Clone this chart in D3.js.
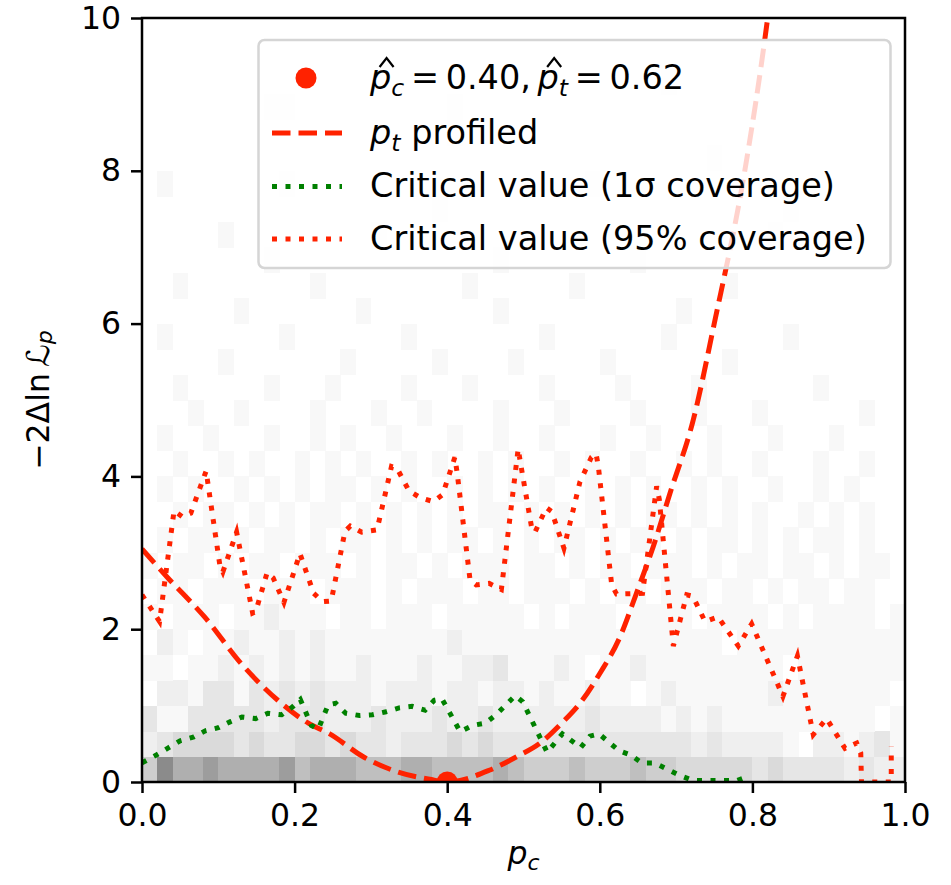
<!DOCTYPE html>
<html>
<head>
<meta charset="utf-8">
<script src="https://cdn.jsdelivr.net/npm/d3@7"></script>
<style>
  body { margin: 0; background: #fff; }
  text { font-family: "DejaVu Sans", sans-serif; }
</style>
</head>
<body>
<div id="container"></div>
<script>
/* CONSTANTS AND GLOBALS */
const width = 951,
  height = 885,
  margin = { top: 18, right: 46, bottom: 103, left: 142 };

const RED = "#ff2200", GREEN = "#008000";

/* DATA */
const xTicks = [0, 0.2, 0.4, 0.6, 0.8, 1.0];
const yTicks = [0, 2, 4, 6, 8, 10];
const nBinsX = 50, nBinsY = 30;

// 2d histogram, rows from bottom (y=0) to top (y=10), one grey level per x bin
const heatRows = [
  "59778777786777666776666765556555655444443433332322",
  "23444434334434332333434333333333333323222210221231",
  "31133333233322232223223222222322221212111111111101",
  "02213313232322212221221221211211012111111211111110",
  "11011212121211211121122311121011211111111101111111",
  "02101121121211111111211111111111111111011111111111",
  "10111011211101101110111110101110111101111010111101",
  "01101110111011101011101101110101101110110101101100",
  "10110101101110101101011101101011011101011011010110",
  "01011010110101101010110101011010110101101010110100",
  "00101101010110101010101101010101011010101001010100",
  "01010010101011010100101010100101010010100100101000",
  "00100101001010100101001010010100100101001000100100",
  "01001000100101001000100100100010010001000100010000",
  "00010010000100010010000100010000100010001000000100",
  "00100000100010000100010000100001000010000000100000",
  "00000100000001000001000010000010000000100000000000",
  "01000000010000000100000000100000001000000010000000",
  "00000010000000100000000100000000000100000000000000",
  "00100000000100000000010000001000000000100000000000",
  "00000000100000000000000100000000100000000000000000",
  "00000100000000010000000000000000000000000100000000",
  "00000000000000000001000000000000000000000010000000",
  "01000000010000000000000000000100000000000000000000",
  "00000000000000000000000000000000000001000000000000",
  "00000000000000000000100000000000000000000000000000",
  "00000000110000000000100000000000000000000000000000",
  "00000000000000000000000000000000001000000000000000",
  "00000000000000000000000000000000000000000000000000",
  "00000000000000000000000000000000000000000000000000"
];

// p_t profiled curve [p_c, -2 dlnL]
const profiled = [
  [0, 3.05], [0.034, 2.67], [0.082, 2.16], [0.13, 1.55], [0.178, 1.07],
  [0.218, 0.77], [0.246, 0.63], [0.29, 0.33], [0.334, 0.135], [0.377, 0.035],
  [0.40, 0], [0.456, 0.157], [0.491, 0.33], [0.522, 0.51], [0.548, 0.75],
  [0.574, 1.03], [0.60, 1.42], [0.6265, 1.9], [0.648, 2.47], [0.67, 3.08],
  [0.692, 3.78], [0.7225, 4.74], [0.75, 6.0], [0.79, 8.0], [0.82, 10], [0.83, 10.8]
];

// critical value, 1 sigma coverage
const crit1sigma = [
  [0.0, 0.25], [0.02, 0.36], [0.035, 0.45], [0.05, 0.54], [0.068, 0.59],
  [0.083, 0.67], [0.1, 0.71], [0.116, 0.79], [0.131, 0.85], [0.149, 0.83],
  [0.165, 0.9], [0.183, 0.88], [0.197, 0.98], [0.2075, 1.08], [0.222, 0.74],
  [0.231, 0.69], [0.244, 1.01], [0.254, 1.03], [0.267, 0.9], [0.285, 0.87],
  [0.302, 0.88], [0.32, 0.92], [0.337, 0.97], [0.354, 0.99], [0.371, 0.94],
  [0.383, 1.07], [0.393, 1.09], [0.417, 0.66], [0.433, 0.74], [0.45, 0.77],
  [0.464, 0.88], [0.489, 1.13], [0.499, 1.05], [0.531, 0.39], [0.551, 0.63],
  [0.575, 0.45], [0.587, 0.6], [0.599, 0.63], [0.625, 0.41], [0.641, 0.35],
  [0.655, 0.25], [0.672, 0.25], [0.688, 0.17], [0.704, 0.09], [0.722, 0.02],
  [0.78, 0.02], [0.791, 0.06]
];

// critical value, 95% coverage
const crit95 = [
  [0.0, 2.45], [0.023, 2.1], [0.042, 3.55], [0.053, 3.47], [0.064, 3.52],
  [0.084, 4.07], [0.102, 2.84], [0.106, 2.75], [0.124, 3.27], [0.145, 2.21],
  [0.149, 2.23], [0.164, 2.74], [0.172, 2.67], [0.186, 2.35], [0.207, 2.99],
  [0.225, 2.47], [0.237, 2.36], [0.248, 2.37], [0.266, 3.28], [0.273, 3.35],
  [0.288, 3.27], [0.308, 3.3], [0.327, 4.13], [0.334, 4.11], [0.35, 3.81],
  [0.365, 3.72], [0.382, 3.67], [0.394, 3.76], [0.41, 4.25], [0.413, 4.05],
  [0.43, 2.64], [0.438, 2.58], [0.455, 2.6], [0.471, 2.52], [0.493, 4.36],
  [0.496, 4.18], [0.511, 3.31], [0.515, 3.27], [0.53, 3.59], [0.537, 3.54],
  [0.553, 3.06], [0.574, 3.93], [0.589, 4.25], [0.595, 4.3], [0.598, 4.14],
  [0.6156, 2.58], [0.622, 2.46], [0.656, 2.47], [0.6745, 3.87], [0.678, 3.7],
  [0.6964, 1.78], [0.714, 2.45], [0.722, 2.43], [0.738, 2.1], [0.755, 2.16],
  [0.7815, 1.78], [0.799, 2.07], [0.84, 1.12], [0.859, 1.65], [0.8798, 0.62],
  [0.8973, 0.83], [0.9214, 0.44], [0.9367, 0.51], [0.942, 0.38], [0.943, 0],
  [0.982, 0], [0.982, 0.46]
];

const bestFit = { pc: 0.40, pt: 0.62 };

/* SCALES */
const xScale = d3.scaleLinear()
  .domain([0, 1])
  .range([margin.left, width - margin.right]);

const yScale = d3.scaleLinear()
  .domain([0, 10])
  .range([height - margin.bottom, margin.top]);

const grey = d3.scaleSequential(d3.interpolateGreys)
  .domain([0, 1 / 0.06]);

/* SVG */
const svg = d3.select("#container")
  .append("svg")
  .attr("width", width)
  .attr("height", height);

svg.append("clipPath")
  .attr("id", "plot-clip")
  .append("rect")
  .attr("x", margin.left)
  .attr("y", margin.top)
  .attr("width", width - margin.left - margin.right)
  .attr("height", height - margin.top - margin.bottom);

// HEATMAP
const cells = [];
heatRows.forEach((row, j) => {
  row.split("").forEach((c, i) => {
    if (+c > 0) cells.push({ i, j, v: +c });
  });
});

svg.append("g")
  .attr("shape-rendering", "crispEdges")
  .selectAll("rect")
  .data(cells)
  .join("rect")
  .attr("x", d => xScale(d.i / nBinsX))
  .attr("width", d => xScale((d.i + 1) / nBinsX) - xScale(d.i / nBinsX) + 0.5)
  .attr("y", d => yScale((d.j + 1) * 10 / nBinsY))
  .attr("height", d => yScale(d.j * 10 / nBinsY) - yScale((d.j + 1) * 10 / nBinsY) + 0.5)
  .attr("fill", d => grey(d.v));

// LINES
const lineGen = d3.line()
  .x(d => xScale(d[0]))
  .y(d => yScale(d[1]));

const plot = svg.append("g").attr("clip-path", "url(#plot-clip)");

plot.append("path")
  .attr("fill", "none")
  .attr("stroke", RED)
  .attr("stroke-width", 5)
  .attr("stroke-dasharray", "18.5,8")
  .attr("d", lineGen.curve(d3.curveMonotoneX)(profiled));

lineGen.curve(d3.curveLinear);

plot.append("path")
  .attr("fill", "none")
  .attr("stroke", GREEN)
  .attr("stroke-width", 5)
  .attr("stroke-dasharray", "5,8.5")
  .attr("d", lineGen(crit1sigma));

plot.append("path")
  .attr("fill", "none")
  .attr("stroke", RED)
  .attr("stroke-width", 5)
  .attr("stroke-dasharray", "5,8.5")
  .attr("d", lineGen(crit95));

plot.append("circle")
  .attr("cx", xScale(bestFit.pc))
  .attr("cy", yScale(0))
  .attr("r", 10.5)
  .attr("fill", RED);

// AXES
const xAxis = d3.axisBottom(xScale)
  .tickValues(xTicks)
  .tickFormat(d3.format(".1f"))
  .tickSize(11)
  .tickPadding(11);

const yAxis = d3.axisLeft(yScale)
  .tickValues(yTicks)
  .tickFormat(d3.format("d"))
  .tickSize(11)
  .tickPadding(10);

const gx = svg.append("g")
  .attr("transform", `translate(0,${height - margin.bottom})`)
  .call(xAxis);

const gy = svg.append("g")
  .attr("transform", `translate(${margin.left},0)`)
  .call(yAxis);

[gx, gy].forEach(g => {
  g.select(".domain").remove();
  g.selectAll(".tick line").attr("stroke", "#000").attr("stroke-width", 2.5);
  g.selectAll(".tick text")
    .attr("fill", "#000")
    .style("font-size", "31.5px")
    .style("font-family", "DejaVu Sans");
});

svg.append("rect")
  .attr("x", margin.left)
  .attr("y", margin.top)
  .attr("width", width - margin.left - margin.right)
  .attr("height", height - margin.top - margin.bottom)
  .attr("fill", "none")
  .attr("stroke", "#000")
  .attr("stroke-width", 2.5);

// AXIS LABELS
const xLab = svg.append("text")
  .attr("x", (margin.left + width - margin.right) / 2)
  .attr("y", 864)
  .attr("text-anchor", "middle")
  .style("font-size", "31.5px");
xLab.append("tspan").attr("font-style", "italic").text("p");
xLab.append("tspan").attr("font-style", "italic").attr("font-size", "22px").attr("dy", 6).text("c");

const yLab = svg.append("text")
  .attr("transform", `translate(38,${(margin.top + height - margin.bottom) / 2}) rotate(-90)`)
  .attr("text-anchor", "middle")
  .attr("dominant-baseline", "central")
  .style("font-size", "31.5px");
yLab.append("tspan").text("\u22122\u0394ln\u2009");
yLab.append("tspan").attr("font-style", "italic").text("\u2112");
yLab.append("tspan").attr("font-style", "italic").attr("font-size", "22px").attr("dy", 6).text("p");

// LEGEND
const legend = svg.append("g");

legend.append("rect")
  .attr("x", 258.5)
  .attr("y", 40)
  .attr("width", 632)
  .attr("height", 228)
  .attr("rx", 6)
  .attr("fill", "#fff")
  .attr("fill-opacity", 0.8)
  .attr("stroke", "#d5d5d5")
  .attr("stroke-width", 2.5);

legend.append("circle")
  .attr("cx", 306).attr("cy", 78).attr("r", 10.5).attr("fill", RED);

const handles = [
  { y: 133, color: RED, dash: "18.5,8" },
  { y: 186.5, color: GREEN, dash: "5,8.5" },
  { y: 239, color: RED, dash: "5,8.5" }
];
legend.selectAll("line.handle")
  .data(handles)
  .join("line")
  .attr("class", "handle")
  .attr("x1", 272).attr("x2", 342)
  .attr("y1", d => d.y).attr("y2", d => d.y)
  .attr("stroke", d => d.color)
  .attr("stroke-width", 5)
  .attr("stroke-dasharray", d => d.dash);

const legFont = "33.5px", subFont = "23.5px";

const t1 = legend.append("text").attr("x", 370).attr("y", 89).style("font-size", legFont);
t1.append("tspan").attr("font-style", "italic").text("p");
t1.append("tspan").attr("font-style", "italic").attr("font-size", subFont).attr("dy", 7).text("c");
t1.append("tspan").attr("dy", -7).text(`\u2009=\u2009${bestFit.pc.toFixed(2)},\u2009`);
t1.append("tspan").attr("font-style", "italic").text("p");
t1.append("tspan").attr("font-style", "italic").attr("font-size", subFont).attr("dy", 7).text("t");
t1.append("tspan").attr("dy", -7).text(`\u2009=\u2009${bestFit.pt.toFixed(2)}`);

// hats over the two p's, drawn as small chevrons
const full = t1.text();
[0, full.indexOf("p", 1)].forEach(idx => {
  const ext = t1.node().getExtentOfChar(idx);
  const cx = ext.x + ext.width * 0.78;
  legend.append("path")
    .attr("d", `M${cx - 7},67 L${cx},58 L${cx + 7},67`)
    .attr("fill", "none")
    .attr("stroke", "#000")
    .attr("stroke-width", 2.2);
});

const t2 = legend.append("text").attr("x", 370).attr("y", 144).style("font-size", legFont);
t2.append("tspan").attr("font-style", "italic").text("p");
t2.append("tspan").attr("font-style", "italic").attr("font-size", subFont).attr("dy", 7).text("t");
t2.append("tspan").attr("dy", -7).text(" profiled");

legend.append("text").attr("x", 370).attr("y", 197).style("font-size", legFont)
  .text("Critical value (1\u03C3 coverage)");
legend.append("text").attr("x", 370).attr("y", 250).style("font-size", legFont)
  .text("Critical value (95% coverage)");
</script>
</body>
</html>
